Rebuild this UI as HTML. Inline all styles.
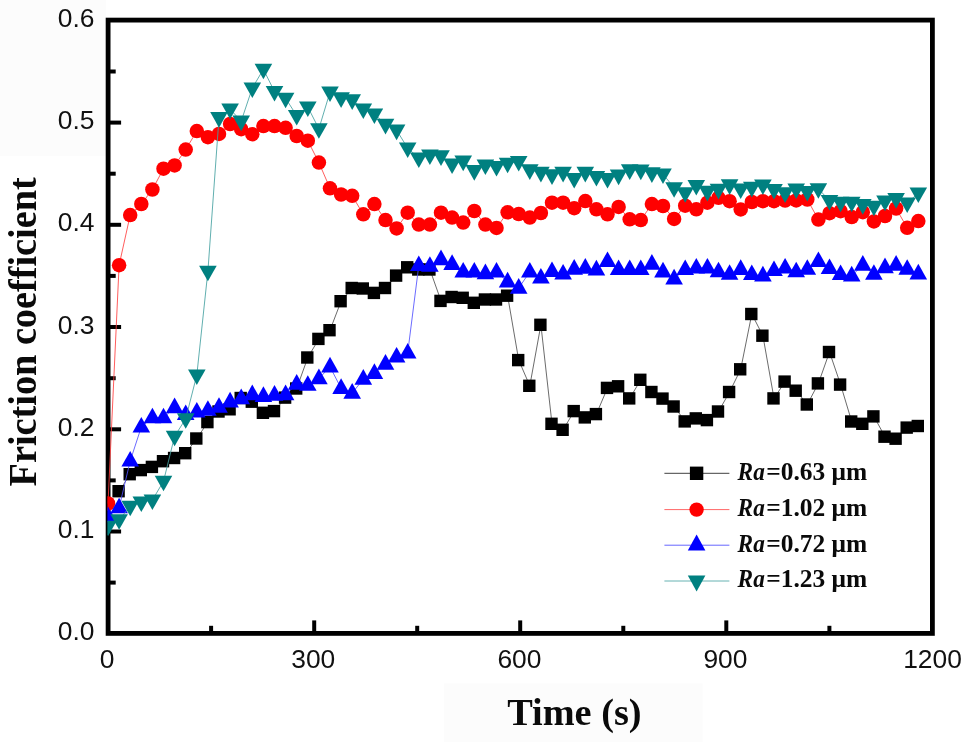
<!DOCTYPE html>
<html lang="en">
<head>
<meta charset="utf-8">
<title>Friction coefficient vs Time</title>
<style>
html,body{margin:0;padding:0;background:#fff;}
body{width:967px;height:742px;overflow:hidden;}
svg{display:block;}
.tk{font-family:"Liberation Sans",Arial,sans-serif;font-size:26.4px;fill:#111;}
.ax{font-family:"Liberation Serif","Times New Roman",serif;font-weight:bold;fill:#0a0a0a;font-variant-ligatures:none;}
.lg{font-family:"Liberation Serif","Times New Roman",serif;font-weight:bold;font-size:25.6px;fill:#0a0a0a;}
.it{font-style:italic;}
</style>
</head>
<body>
<svg width="967" height="742" viewBox="0 0 967 742">
<rect width="967" height="742" fill="#fff"/>
<rect x="0" y="0" width="106" height="156" fill="#fcfcfc"/>
<rect x="444" y="683.5" width="258.5" height="58.5" fill="#fcfcfc"/>
<defs><clipPath id="cp"><rect x="107.4" y="20.1" width="825" height="613.3"/></clipPath></defs>
<g stroke="#000" stroke-width="4" stroke-linecap="butt"><line x1="108.1" y1="582.6" x2="115.7" y2="582.6"/><line x1="108.1" y1="531.5" x2="121.1" y2="531.5"/><line x1="108.1" y1="480.4" x2="115.7" y2="480.4"/><line x1="108.1" y1="429.3" x2="121.1" y2="429.3"/><line x1="108.1" y1="378.2" x2="115.7" y2="378.2"/><line x1="108.1" y1="327" x2="121.1" y2="327"/><line x1="108.1" y1="275.9" x2="115.7" y2="275.9"/><line x1="108.1" y1="224.8" x2="121.1" y2="224.8"/><line x1="108.1" y1="173.7" x2="115.7" y2="173.7"/><line x1="108.1" y1="122.6" x2="121.1" y2="122.6"/><line x1="108.1" y1="71.5" x2="115.7" y2="71.5"/><line x1="211.1" y1="633.4" x2="211.1" y2="625.8"/><line x1="314.2" y1="633.4" x2="314.2" y2="620.4"/><line x1="417.2" y1="633.4" x2="417.2" y2="625.8"/><line x1="520.2" y1="633.4" x2="520.2" y2="620.4"/><line x1="623.3" y1="633.4" x2="623.3" y2="625.8"/><line x1="726.3" y1="633.4" x2="726.3" y2="620.4"/><line x1="829.4" y1="633.4" x2="829.4" y2="625.8"/></g>
<rect x="108.1" y="20.1" width="824.3" height="613.3" fill="none" stroke="#000" stroke-width="4.8"/>
<g clip-path="url(#cp)">
<polyline fill="none" stroke="#505050" stroke-width="0.85" points="119.1,491.2 130.2,474.2 141.3,470.1 152.4,466.9 163.5,461.2 174.6,458 185.7,453.2 196.8,438.5 207.9,422.1 219,411.5 230.1,409.3 241.2,398 252.3,401.7 263.4,412.8 274.5,411.1 285.6,397.6 296.7,388.5 307.8,357.5 318.9,338.9 330,330.2 341.1,301.2 352.2,288 363.3,288.5 374.4,292.9 385.5,288 396.6,275.6 407.7,267.3 418.8,269.5 429.9,269.5 441,300.9 452.1,297 463.2,297.8 474.3,302.8 485.4,299.5 496.5,299.5 507.6,295.7 518.7,360.1 529.8,385.8 540.9,324.8 552,423.8 563.1,429.8 574.2,411.1 585.3,417.4 596.4,414.1 607.5,387.9 618.6,386.3 629.7,398.4 640.8,379.8 651.9,392 663,398.6 674.1,406.5 685.2,421.4 696.3,418.4 707.4,420.1 718.5,411.5 729.6,392 740.7,369.3 751.8,314 762.9,335.7 774,398.4 785.1,381.6 796.2,390.7 807.3,404.5 818.4,383.4 829.5,352 840.6,384.6 851.7,421.5 862.8,423.8 873.9,416.4 885,436.7 896.1,438.7 907.2,427.6 918.3,426"/>
<g fill="#000"><rect x="112.4" y="485" width="12.4" height="12.4"/><rect x="123.5" y="468" width="12.4" height="12.4"/><rect x="134.6" y="463.9" width="12.4" height="12.4"/><rect x="145.7" y="460.7" width="12.4" height="12.4"/><rect x="156.8" y="455" width="12.4" height="12.4"/><rect x="167.9" y="451.8" width="12.4" height="12.4"/><rect x="179" y="447" width="12.4" height="12.4"/><rect x="190.1" y="432.3" width="12.4" height="12.4"/><rect x="201.2" y="415.9" width="12.4" height="12.4"/><rect x="212.3" y="405.3" width="12.4" height="12.4"/><rect x="223.4" y="403.1" width="12.4" height="12.4"/><rect x="234.5" y="391.8" width="12.4" height="12.4"/><rect x="245.6" y="395.5" width="12.4" height="12.4"/><rect x="256.7" y="406.6" width="12.4" height="12.4"/><rect x="267.8" y="404.9" width="12.4" height="12.4"/><rect x="278.9" y="391.4" width="12.4" height="12.4"/><rect x="290" y="382.3" width="12.4" height="12.4"/><rect x="301.1" y="351.3" width="12.4" height="12.4"/><rect x="312.2" y="332.7" width="12.4" height="12.4"/><rect x="323.3" y="324" width="12.4" height="12.4"/><rect x="334.4" y="295" width="12.4" height="12.4"/><rect x="345.5" y="281.8" width="12.4" height="12.4"/><rect x="356.6" y="282.3" width="12.4" height="12.4"/><rect x="367.7" y="286.7" width="12.4" height="12.4"/><rect x="378.8" y="281.8" width="12.4" height="12.4"/><rect x="389.9" y="269.4" width="12.4" height="12.4"/><rect x="401" y="261.1" width="12.4" height="12.4"/><rect x="412.1" y="263.3" width="12.4" height="12.4"/><rect x="423.2" y="263.3" width="12.4" height="12.4"/><rect x="434.3" y="294.7" width="12.4" height="12.4"/><rect x="445.4" y="290.8" width="12.4" height="12.4"/><rect x="456.5" y="291.6" width="12.4" height="12.4"/><rect x="467.6" y="296.6" width="12.4" height="12.4"/><rect x="478.7" y="293.3" width="12.4" height="12.4"/><rect x="489.8" y="293.3" width="12.4" height="12.4"/><rect x="500.9" y="289.5" width="12.4" height="12.4"/><rect x="512" y="353.9" width="12.4" height="12.4"/><rect x="523.1" y="379.6" width="12.4" height="12.4"/><rect x="534.2" y="318.6" width="12.4" height="12.4"/><rect x="545.3" y="417.6" width="12.4" height="12.4"/><rect x="556.4" y="423.6" width="12.4" height="12.4"/><rect x="567.5" y="404.9" width="12.4" height="12.4"/><rect x="578.6" y="411.2" width="12.4" height="12.4"/><rect x="589.7" y="407.9" width="12.4" height="12.4"/><rect x="600.8" y="381.7" width="12.4" height="12.4"/><rect x="611.9" y="380.1" width="12.4" height="12.4"/><rect x="623" y="392.2" width="12.4" height="12.4"/><rect x="634.1" y="373.6" width="12.4" height="12.4"/><rect x="645.2" y="385.8" width="12.4" height="12.4"/><rect x="656.3" y="392.4" width="12.4" height="12.4"/><rect x="667.4" y="400.3" width="12.4" height="12.4"/><rect x="678.5" y="415.2" width="12.4" height="12.4"/><rect x="689.6" y="412.2" width="12.4" height="12.4"/><rect x="700.7" y="413.9" width="12.4" height="12.4"/><rect x="711.8" y="405.3" width="12.4" height="12.4"/><rect x="722.9" y="385.8" width="12.4" height="12.4"/><rect x="734" y="363.1" width="12.4" height="12.4"/><rect x="745.1" y="307.8" width="12.4" height="12.4"/><rect x="756.2" y="329.5" width="12.4" height="12.4"/><rect x="767.3" y="392.2" width="12.4" height="12.4"/><rect x="778.4" y="375.4" width="12.4" height="12.4"/><rect x="789.5" y="384.5" width="12.4" height="12.4"/><rect x="800.6" y="398.3" width="12.4" height="12.4"/><rect x="811.7" y="377.2" width="12.4" height="12.4"/><rect x="822.8" y="345.8" width="12.4" height="12.4"/><rect x="833.9" y="378.4" width="12.4" height="12.4"/><rect x="845" y="415.3" width="12.4" height="12.4"/><rect x="856.1" y="417.6" width="12.4" height="12.4"/><rect x="867.2" y="410.2" width="12.4" height="12.4"/><rect x="878.3" y="430.5" width="12.4" height="12.4"/><rect x="889.4" y="432.5" width="12.4" height="12.4"/><rect x="900.5" y="421.4" width="12.4" height="12.4"/><rect x="911.6" y="419.8" width="12.4" height="12.4"/></g>
<polyline fill="none" stroke="#ff4040" stroke-width="0.85" points="108,503.5 119.1,265.2 130.2,215.1 141.3,204 152.4,189.5 163.5,168.7 174.6,165.4 185.7,149.6 196.8,131.1 207.9,137.2 219,133.9 230.1,124 241.2,129.2 252.3,134.2 263.4,126.1 274.5,126.1 285.6,127.8 296.7,136 307.8,140.7 318.9,162.6 330,188.3 341.1,194.5 352.2,195.8 363.3,214.3 374.4,204.1 385.5,220.1 396.6,228.4 407.7,212.7 418.8,224.6 429.9,224.6 441,212.7 452.1,217.6 463.2,222.6 474.3,211 485.4,224.6 496.5,227.9 507.6,212.3 518.7,214 529.8,217.6 540.9,213 552,202.7 563.1,202.7 574.2,208.2 585.3,201.1 596.4,209.3 607.5,214.3 618.6,206.9 629.7,219.3 640.8,220.1 651.9,204.1 663,206 674.1,218.9 685.2,205.7 696.3,209.3 707.4,202.7 718.5,197.8 729.6,201.2 740.7,209.4 751.8,202 762.9,201.2 774,201.2 785.1,200.6 796.2,200.4 807.3,199.5 818.4,219.6 829.5,213.2 840.6,211.2 851.7,217.1 862.8,212.2 873.9,221.4 885,216 896.1,208.5 907.2,227.8 918.3,221.1"/>
<g fill="#f00"><circle cx="108" cy="503.5" r="7.25"/><circle cx="119.1" cy="265.2" r="7.25"/><circle cx="130.2" cy="215.1" r="7.25"/><circle cx="141.3" cy="204" r="7.25"/><circle cx="152.4" cy="189.5" r="7.25"/><circle cx="163.5" cy="168.7" r="7.25"/><circle cx="174.6" cy="165.4" r="7.25"/><circle cx="185.7" cy="149.6" r="7.25"/><circle cx="196.8" cy="131.1" r="7.25"/><circle cx="207.9" cy="137.2" r="7.25"/><circle cx="219" cy="133.9" r="7.25"/><circle cx="230.1" cy="124" r="7.25"/><circle cx="241.2" cy="129.2" r="7.25"/><circle cx="252.3" cy="134.2" r="7.25"/><circle cx="263.4" cy="126.1" r="7.25"/><circle cx="274.5" cy="126.1" r="7.25"/><circle cx="285.6" cy="127.8" r="7.25"/><circle cx="296.7" cy="136" r="7.25"/><circle cx="307.8" cy="140.7" r="7.25"/><circle cx="318.9" cy="162.6" r="7.25"/><circle cx="330" cy="188.3" r="7.25"/><circle cx="341.1" cy="194.5" r="7.25"/><circle cx="352.2" cy="195.8" r="7.25"/><circle cx="363.3" cy="214.3" r="7.25"/><circle cx="374.4" cy="204.1" r="7.25"/><circle cx="385.5" cy="220.1" r="7.25"/><circle cx="396.6" cy="228.4" r="7.25"/><circle cx="407.7" cy="212.7" r="7.25"/><circle cx="418.8" cy="224.6" r="7.25"/><circle cx="429.9" cy="224.6" r="7.25"/><circle cx="441" cy="212.7" r="7.25"/><circle cx="452.1" cy="217.6" r="7.25"/><circle cx="463.2" cy="222.6" r="7.25"/><circle cx="474.3" cy="211" r="7.25"/><circle cx="485.4" cy="224.6" r="7.25"/><circle cx="496.5" cy="227.9" r="7.25"/><circle cx="507.6" cy="212.3" r="7.25"/><circle cx="518.7" cy="214" r="7.25"/><circle cx="529.8" cy="217.6" r="7.25"/><circle cx="540.9" cy="213" r="7.25"/><circle cx="552" cy="202.7" r="7.25"/><circle cx="563.1" cy="202.7" r="7.25"/><circle cx="574.2" cy="208.2" r="7.25"/><circle cx="585.3" cy="201.1" r="7.25"/><circle cx="596.4" cy="209.3" r="7.25"/><circle cx="607.5" cy="214.3" r="7.25"/><circle cx="618.6" cy="206.9" r="7.25"/><circle cx="629.7" cy="219.3" r="7.25"/><circle cx="640.8" cy="220.1" r="7.25"/><circle cx="651.9" cy="204.1" r="7.25"/><circle cx="663" cy="206" r="7.25"/><circle cx="674.1" cy="218.9" r="7.25"/><circle cx="685.2" cy="205.7" r="7.25"/><circle cx="696.3" cy="209.3" r="7.25"/><circle cx="707.4" cy="202.7" r="7.25"/><circle cx="718.5" cy="197.8" r="7.25"/><circle cx="729.6" cy="201.2" r="7.25"/><circle cx="740.7" cy="209.4" r="7.25"/><circle cx="751.8" cy="202" r="7.25"/><circle cx="762.9" cy="201.2" r="7.25"/><circle cx="774" cy="201.2" r="7.25"/><circle cx="785.1" cy="200.6" r="7.25"/><circle cx="796.2" cy="200.4" r="7.25"/><circle cx="807.3" cy="199.5" r="7.25"/><circle cx="818.4" cy="219.6" r="7.25"/><circle cx="829.5" cy="213.2" r="7.25"/><circle cx="840.6" cy="211.2" r="7.25"/><circle cx="851.7" cy="217.1" r="7.25"/><circle cx="862.8" cy="212.2" r="7.25"/><circle cx="873.9" cy="221.4" r="7.25"/><circle cx="885" cy="216" r="7.25"/><circle cx="896.1" cy="208.5" r="7.25"/><circle cx="907.2" cy="227.8" r="7.25"/><circle cx="918.3" cy="221.1" r="7.25"/></g>
<polyline fill="none" stroke="#5050ff" stroke-width="0.85" points="108,516.6 119.1,507.7 130.2,461 141.3,427 152.4,417.7 163.5,417.7 174.6,407.6 185.7,414.4 196.8,412 207.9,410.2 219,407.2 230.1,401.8 241.2,398.6 252.3,394.6 263.4,396.3 274.5,395.1 285.6,394.6 296.7,384.1 307.8,385.2 318.9,378.6 330,366.8 341.1,388.3 352.2,393.1 363.3,379.1 374.4,373.3 385.5,364.1 396.6,357 407.7,352.9 418.8,265.4 429.9,266.2 441,259.6 452.1,264.3 463.2,271.9 474.3,271.9 485.4,273.6 496.5,271.9 507.6,281.8 518.7,288.1 529.8,271.9 540.9,278 552,271.4 563.1,273.9 574.2,269.1 585.3,268.1 596.4,269.8 607.5,261.4 618.6,269.4 629.7,269.4 640.8,269.4 651.9,264.1 663,271.8 674.1,278.8 685.2,269.4 696.3,268 707.4,268 718.5,271.7 729.6,274.2 740.7,269.3 751.8,274.5 762.9,275.8 774,270.4 785.1,267.9 796.2,271.7 807.3,269.2 818.4,261.4 829.5,268.4 840.6,274.5 851.7,275.8 862.8,265.1 873.9,274.2 885,267.6 896.1,265.1 907.2,269.2 918.3,273.8"/>
<g fill="#00f"><path d="M108 506.6l8.8 15.6h-17.6z"/><path d="M119.1 497.7l8.8 15.6h-17.6z"/><path d="M130.2 451l8.8 15.6h-17.6z"/><path d="M141.3 417l8.8 15.6h-17.6z"/><path d="M152.4 407.7l8.8 15.6h-17.6z"/><path d="M163.5 407.7l8.8 15.6h-17.6z"/><path d="M174.6 397.6l8.8 15.6h-17.6z"/><path d="M185.7 404.4l8.8 15.6h-17.6z"/><path d="M196.8 402l8.8 15.6h-17.6z"/><path d="M207.9 400.2l8.8 15.6h-17.6z"/><path d="M219 397.2l8.8 15.6h-17.6z"/><path d="M230.1 391.8l8.8 15.6h-17.6z"/><path d="M241.2 388.6l8.8 15.6h-17.6z"/><path d="M252.3 384.6l8.8 15.6h-17.6z"/><path d="M263.4 386.3l8.8 15.6h-17.6z"/><path d="M274.5 385.1l8.8 15.6h-17.6z"/><path d="M285.6 384.6l8.8 15.6h-17.6z"/><path d="M296.7 374.1l8.8 15.6h-17.6z"/><path d="M307.8 375.2l8.8 15.6h-17.6z"/><path d="M318.9 368.6l8.8 15.6h-17.6z"/><path d="M330 356.8l8.8 15.6h-17.6z"/><path d="M341.1 378.3l8.8 15.6h-17.6z"/><path d="M352.2 383.1l8.8 15.6h-17.6z"/><path d="M363.3 369.1l8.8 15.6h-17.6z"/><path d="M374.4 363.3l8.8 15.6h-17.6z"/><path d="M385.5 354.1l8.8 15.6h-17.6z"/><path d="M396.6 347l8.8 15.6h-17.6z"/><path d="M407.7 342.9l8.8 15.6h-17.6z"/><path d="M418.8 255.4l8.8 15.6h-17.6z"/><path d="M429.9 256.2l8.8 15.6h-17.6z"/><path d="M441 249.6l8.8 15.6h-17.6z"/><path d="M452.1 254.3l8.8 15.6h-17.6z"/><path d="M463.2 261.9l8.8 15.6h-17.6z"/><path d="M474.3 261.9l8.8 15.6h-17.6z"/><path d="M485.4 263.6l8.8 15.6h-17.6z"/><path d="M496.5 261.9l8.8 15.6h-17.6z"/><path d="M507.6 271.8l8.8 15.6h-17.6z"/><path d="M518.7 278.1l8.8 15.6h-17.6z"/><path d="M529.8 261.9l8.8 15.6h-17.6z"/><path d="M540.9 268l8.8 15.6h-17.6z"/><path d="M552 261.4l8.8 15.6h-17.6z"/><path d="M563.1 263.9l8.8 15.6h-17.6z"/><path d="M574.2 259.1l8.8 15.6h-17.6z"/><path d="M585.3 258.1l8.8 15.6h-17.6z"/><path d="M596.4 259.8l8.8 15.6h-17.6z"/><path d="M607.5 251.4l8.8 15.6h-17.6z"/><path d="M618.6 259.4l8.8 15.6h-17.6z"/><path d="M629.7 259.4l8.8 15.6h-17.6z"/><path d="M640.8 259.4l8.8 15.6h-17.6z"/><path d="M651.9 254.1l8.8 15.6h-17.6z"/><path d="M663 261.8l8.8 15.6h-17.6z"/><path d="M674.1 268.8l8.8 15.6h-17.6z"/><path d="M685.2 259.4l8.8 15.6h-17.6z"/><path d="M696.3 258l8.8 15.6h-17.6z"/><path d="M707.4 258l8.8 15.6h-17.6z"/><path d="M718.5 261.7l8.8 15.6h-17.6z"/><path d="M729.6 264.2l8.8 15.6h-17.6z"/><path d="M740.7 259.3l8.8 15.6h-17.6z"/><path d="M751.8 264.5l8.8 15.6h-17.6z"/><path d="M762.9 265.8l8.8 15.6h-17.6z"/><path d="M774 260.4l8.8 15.6h-17.6z"/><path d="M785.1 257.9l8.8 15.6h-17.6z"/><path d="M796.2 261.7l8.8 15.6h-17.6z"/><path d="M807.3 259.2l8.8 15.6h-17.6z"/><path d="M818.4 251.4l8.8 15.6h-17.6z"/><path d="M829.5 258.4l8.8 15.6h-17.6z"/><path d="M840.6 264.5l8.8 15.6h-17.6z"/><path d="M851.7 265.8l8.8 15.6h-17.6z"/><path d="M862.8 255.1l8.8 15.6h-17.6z"/><path d="M873.9 264.2l8.8 15.6h-17.6z"/><path d="M885 257.6l8.8 15.6h-17.6z"/><path d="M896.1 255.1l8.8 15.6h-17.6z"/><path d="M907.2 259.2l8.8 15.6h-17.6z"/><path d="M918.3 263.8l8.8 15.6h-17.6z"/></g>
<polyline fill="none" stroke="#45a0a0" stroke-width="0.85" points="108,526.3 119.1,519.8 130.2,506.3 141.3,502.1 152.4,500 163.5,481.3 174.6,436.3 185.7,418.8 196.8,375.1 207.9,271.3 219,117.7 230.1,109.2 241.2,121.2 252.3,88 263.4,69.3 274.5,91.6 285.6,98.3 296.7,115.6 307.8,107 318.9,128.8 330,92 341.1,97.9 352.2,99.9 363.3,109 374.4,114 385.5,124.4 396.6,130.2 407.7,148.1 418.8,158 429.9,155 441,155.9 452.1,164.1 463.2,161.2 474.3,170.7 485.4,165 496.5,166.6 507.6,163.3 518.7,161.6 529.8,169.9 540.9,172.4 552,174.9 563.1,172.4 574.2,178.5 585.3,172.4 596.4,176.5 607.5,178.5 618.6,175.2 629.7,169.9 640.8,170.2 651.9,172.9 663,174.1 674.1,187.8 685.2,192.8 696.3,185.6 707.4,191.4 718.5,189.4 729.6,184.9 740.7,189 751.8,187.4 762.9,185 774,189.6 785.1,192.9 796.2,189.1 807.3,191.6 818.4,188.8 829.5,200.6 840.6,202.3 851.7,202.3 862.8,204.7 873.9,206.3 885,201.2 896.1,198.7 907.2,203 918.3,193.1"/>
<g fill="#008080"><path d="M108 536.3l8.8 -15.6h-17.6z"/><path d="M119.1 529.8l8.8 -15.6h-17.6z"/><path d="M130.2 516.3l8.8 -15.6h-17.6z"/><path d="M141.3 512.1l8.8 -15.6h-17.6z"/><path d="M152.4 510l8.8 -15.6h-17.6z"/><path d="M163.5 491.3l8.8 -15.6h-17.6z"/><path d="M174.6 446.3l8.8 -15.6h-17.6z"/><path d="M185.7 428.8l8.8 -15.6h-17.6z"/><path d="M196.8 385.1l8.8 -15.6h-17.6z"/><path d="M207.9 281.3l8.8 -15.6h-17.6z"/><path d="M219 127.7l8.8 -15.6h-17.6z"/><path d="M230.1 119.2l8.8 -15.6h-17.6z"/><path d="M241.2 131.2l8.8 -15.6h-17.6z"/><path d="M252.3 98l8.8 -15.6h-17.6z"/><path d="M263.4 79.3l8.8 -15.6h-17.6z"/><path d="M274.5 101.6l8.8 -15.6h-17.6z"/><path d="M285.6 108.3l8.8 -15.6h-17.6z"/><path d="M296.7 125.6l8.8 -15.6h-17.6z"/><path d="M307.8 117l8.8 -15.6h-17.6z"/><path d="M318.9 138.8l8.8 -15.6h-17.6z"/><path d="M330 102l8.8 -15.6h-17.6z"/><path d="M341.1 107.9l8.8 -15.6h-17.6z"/><path d="M352.2 109.9l8.8 -15.6h-17.6z"/><path d="M363.3 119l8.8 -15.6h-17.6z"/><path d="M374.4 124l8.8 -15.6h-17.6z"/><path d="M385.5 134.4l8.8 -15.6h-17.6z"/><path d="M396.6 140.2l8.8 -15.6h-17.6z"/><path d="M407.7 158.1l8.8 -15.6h-17.6z"/><path d="M418.8 168l8.8 -15.6h-17.6z"/><path d="M429.9 165l8.8 -15.6h-17.6z"/><path d="M441 165.9l8.8 -15.6h-17.6z"/><path d="M452.1 174.1l8.8 -15.6h-17.6z"/><path d="M463.2 171.2l8.8 -15.6h-17.6z"/><path d="M474.3 180.7l8.8 -15.6h-17.6z"/><path d="M485.4 175l8.8 -15.6h-17.6z"/><path d="M496.5 176.6l8.8 -15.6h-17.6z"/><path d="M507.6 173.3l8.8 -15.6h-17.6z"/><path d="M518.7 171.6l8.8 -15.6h-17.6z"/><path d="M529.8 179.9l8.8 -15.6h-17.6z"/><path d="M540.9 182.4l8.8 -15.6h-17.6z"/><path d="M552 184.9l8.8 -15.6h-17.6z"/><path d="M563.1 182.4l8.8 -15.6h-17.6z"/><path d="M574.2 188.5l8.8 -15.6h-17.6z"/><path d="M585.3 182.4l8.8 -15.6h-17.6z"/><path d="M596.4 186.5l8.8 -15.6h-17.6z"/><path d="M607.5 188.5l8.8 -15.6h-17.6z"/><path d="M618.6 185.2l8.8 -15.6h-17.6z"/><path d="M629.7 179.9l8.8 -15.6h-17.6z"/><path d="M640.8 180.2l8.8 -15.6h-17.6z"/><path d="M651.9 182.9l8.8 -15.6h-17.6z"/><path d="M663 184.1l8.8 -15.6h-17.6z"/><path d="M674.1 197.8l8.8 -15.6h-17.6z"/><path d="M685.2 202.8l8.8 -15.6h-17.6z"/><path d="M696.3 195.6l8.8 -15.6h-17.6z"/><path d="M707.4 201.4l8.8 -15.6h-17.6z"/><path d="M718.5 199.4l8.8 -15.6h-17.6z"/><path d="M729.6 194.9l8.8 -15.6h-17.6z"/><path d="M740.7 199l8.8 -15.6h-17.6z"/><path d="M751.8 197.4l8.8 -15.6h-17.6z"/><path d="M762.9 195l8.8 -15.6h-17.6z"/><path d="M774 199.6l8.8 -15.6h-17.6z"/><path d="M785.1 202.9l8.8 -15.6h-17.6z"/><path d="M796.2 199.1l8.8 -15.6h-17.6z"/><path d="M807.3 201.6l8.8 -15.6h-17.6z"/><path d="M818.4 198.8l8.8 -15.6h-17.6z"/><path d="M829.5 210.6l8.8 -15.6h-17.6z"/><path d="M840.6 212.3l8.8 -15.6h-17.6z"/><path d="M851.7 212.3l8.8 -15.6h-17.6z"/><path d="M862.8 214.7l8.8 -15.6h-17.6z"/><path d="M873.9 216.3l8.8 -15.6h-17.6z"/><path d="M885 211.2l8.8 -15.6h-17.6z"/><path d="M896.1 208.7l8.8 -15.6h-17.6z"/><path d="M907.2 213l8.8 -15.6h-17.6z"/><path d="M918.3 203.1l8.8 -15.6h-17.6z"/></g>
</g>
<g class="tk"><text x="94.4" y="640.3" text-anchor="end">0.0</text><text x="94.4" y="538.1" text-anchor="end">0.1</text><text x="94.4" y="435.9" text-anchor="end">0.2</text><text x="94.4" y="333.6" text-anchor="end">0.3</text><text x="94.4" y="231.4" text-anchor="end">0.4</text><text x="94.4" y="129.2" text-anchor="end">0.5</text><text x="94.4" y="27" text-anchor="end">0.6</text><text x="107.2" y="668" text-anchor="middle">0</text><text x="313.3" y="668" text-anchor="middle">300</text><text x="519.4" y="668" text-anchor="middle">600</text><text x="725.4" y="668" text-anchor="middle">900</text><text x="932.5" y="668" text-anchor="middle">1200</text></g>
<text class="ax" font-size="39.4" transform="translate(36.3 486.4) rotate(-90) scale(0.971 1)">Friction coefficient</text>
<text class="ax" font-size="38.7" transform="translate(507.2 724.9) scale(0.99 1)">Time (s)</text>
<g><line x1="664.4" y1="473.3" x2="729.4" y2="473.3" stroke="#000" stroke-width="1" opacity="0.75"/><line x1="664.4" y1="509.6" x2="729.4" y2="509.6" stroke="#f00" stroke-width="1" opacity="0.6"/><line x1="664.4" y1="545.2" x2="729.4" y2="545.2" stroke="#00f" stroke-width="1" opacity="0.6"/><line x1="664.4" y1="581.0" x2="729.4" y2="581.0" stroke="#008080" stroke-width="1" opacity="0.6"/><rect x="689.9" y="466.6" width="13.4" height="13.4" fill="#000"/><circle cx="696.6" cy="509.6" r="7.2" fill="#f00"/><path fill="#00f" d="M696.6 534.6l8.8 16.0h-17.6z"/><path fill="#008080" d="M696.6 591.4l8.8 -16.0h-17.6z"/><text class="lg it" x="737.6" y="479.6" textLength="27.2" lengthAdjust="spacingAndGlyphs">Ra</text><text class="lg" x="766.2" y="479.6" textLength="101" lengthAdjust="spacingAndGlyphs">=0.63 μm</text><text class="lg it" x="737.6" y="515.9" textLength="27.2" lengthAdjust="spacingAndGlyphs">Ra</text><text class="lg" x="766.2" y="515.9" textLength="101" lengthAdjust="spacingAndGlyphs">=1.02 μm</text><text class="lg it" x="737.6" y="551.5" textLength="27.2" lengthAdjust="spacingAndGlyphs">Ra</text><text class="lg" x="766.2" y="551.5" textLength="101" lengthAdjust="spacingAndGlyphs">=0.72 μm</text><text class="lg it" x="737.6" y="587.3" textLength="27.2" lengthAdjust="spacingAndGlyphs">Ra</text><text class="lg" x="766.2" y="587.3" textLength="101" lengthAdjust="spacingAndGlyphs">=1.23 μm</text></g>
</svg>
</body>
</html>
